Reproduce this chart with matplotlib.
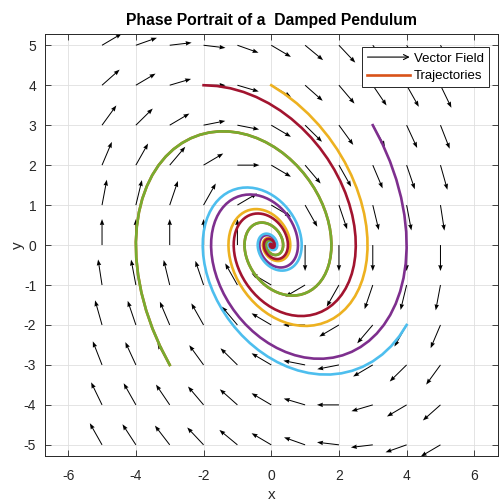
import numpy as np
import matplotlib.pyplot as plt
from matplotlib.patches import FancyArrowPatch
from matplotlib.legend_handler import HandlerBase

plt.rcParams['font.family'] = ['Liberation Sans', 'DejaVu Sans']
plt.rcParams['axes.unicode_minus'] = False

# damped oscillator: x' = y, y' = -x - damping*y
damping = 0.5

# vector field grid (arrows normalised to a fixed length)
grid_x = np.arange(-5, 6)
grid_y = np.arange(-5, 6)
arrow_len = 0.65

# initial conditions for the trajectories
start_x = [-3, 0, 3, -3, 4, -2]
start_y = [-3, 4, 3, -3, -2, 4]
line_colors = ['#D95319', '#EDB120', '#7E2F8E', '#77AC30', '#4DBEEE', '#A2142F']
t_end = 40
dt = 0.1


def field(x, y):
    return y, -x - damping * y


def trajectory(x0, y0):
    # simple RK4, sampled every dt
    xs, ys = [x0], [y0]
    x, y = float(x0), float(y0)
    h = dt / 4
    for _ in range(int(t_end / dt)):
        for _ in range(4):
            k1 = field(x, y)
            k2 = field(x + h / 2 * k1[0], y + h / 2 * k1[1])
            k3 = field(x + h / 2 * k2[0], y + h / 2 * k2[1])
            k4 = field(x + h * k3[0], y + h * k3[1])
            x += h / 6 * (k1[0] + 2 * k2[0] + 2 * k3[0] + k4[0])
            y += h / 6 * (k1[1] + 2 * k2[1] + 2 * k3[1] + k4[1])
        xs.append(x)
        ys.append(y)
    return np.array(xs), np.array(ys)


class ArrowHandler(HandlerBase):
    def create_artists(self, legend, orig_handle, xdescent, ydescent,
                       width, height, fontsize, trans):
        y = height / 2 - ydescent
        a = FancyArrowPatch((-xdescent, y), (width - xdescent, y),
                            arrowstyle='->', mutation_scale=9, lw=0.8,
                            color='k', shrinkA=0, shrinkB=0, transform=trans)
        return [a]


X, Y = np.meshgrid(grid_x, grid_y)
U, V = field(X, Y)
mag = np.hypot(U, V)
mag[mag == 0] = 1
U = U / mag * arrow_len
V = V / mag * arrow_len

fig = plt.figure(figsize=(5, 5.04), dpi=100)
ax = fig.add_axes([0.089, 0.0952, 0.907, 0.838])

ax.quiver(X, Y, U, V, angles='xy', scale_units='xy', scale=1, pivot='tail',
          color='k', width=0.0022, headwidth=4.5, headlength=6,
          headaxislength=5.5, minlength=0, zorder=2)

traj_lines = []
for x0, y0, c in zip(start_x, start_y, line_colors):
    xs, ys = trajectory(x0, y0)
    ln, = ax.plot(xs, ys, color=c, lw=1.9, zorder=3)
    traj_lines.append(ln)

ax.set_xlim(-6.7, 6.7)
ax.set_ylim(-5.28, 5.29)
ax.set_xticks(np.arange(-6, 7, 2))
ax.set_yticks(np.arange(-5, 6, 1))
ax.grid(True, color='#dfdfdf', lw=0.6)
ax.set_axisbelow(True)
for s in ax.spines.values():
    s.set_color('#262626')
    s.set_linewidth(0.7)
ax.tick_params(direction='in', top=True, right=True, length=4, width=0.6,
               colors='#262626', labelsize=10)
ax.tick_params(axis='x', pad=9)
ax.tick_params(axis='y', pad=6)

ax.set_xlabel('x', fontsize=11, color='#262626', labelpad=4)
ax.set_ylabel('y', fontsize=11, color='#262626', labelpad=-1)
ax.set_title('Phase Portrait of a  Damped Pendulum', fontsize=11.3,
             fontweight='bold', pad=6)

arrow_proxy = FancyArrowPatch((0, 0), (1, 0))
leg = ax.legend([arrow_proxy, traj_lines[0]], ['Vector Field', 'Trajectories'],
                handler_map={FancyArrowPatch: ArrowHandler()},
                loc='upper right', bbox_to_anchor=(0.98, 0.968),
                borderaxespad=0, fontsize=9.5, handlelength=3.2,
                handletextpad=0.3, fancybox=False, framealpha=1,
                edgecolor='#262626', borderpad=0.4, labelspacing=0.4)
leg.get_frame().set_linewidth(0.7)

fig.savefig('out.png', dpi=100)
